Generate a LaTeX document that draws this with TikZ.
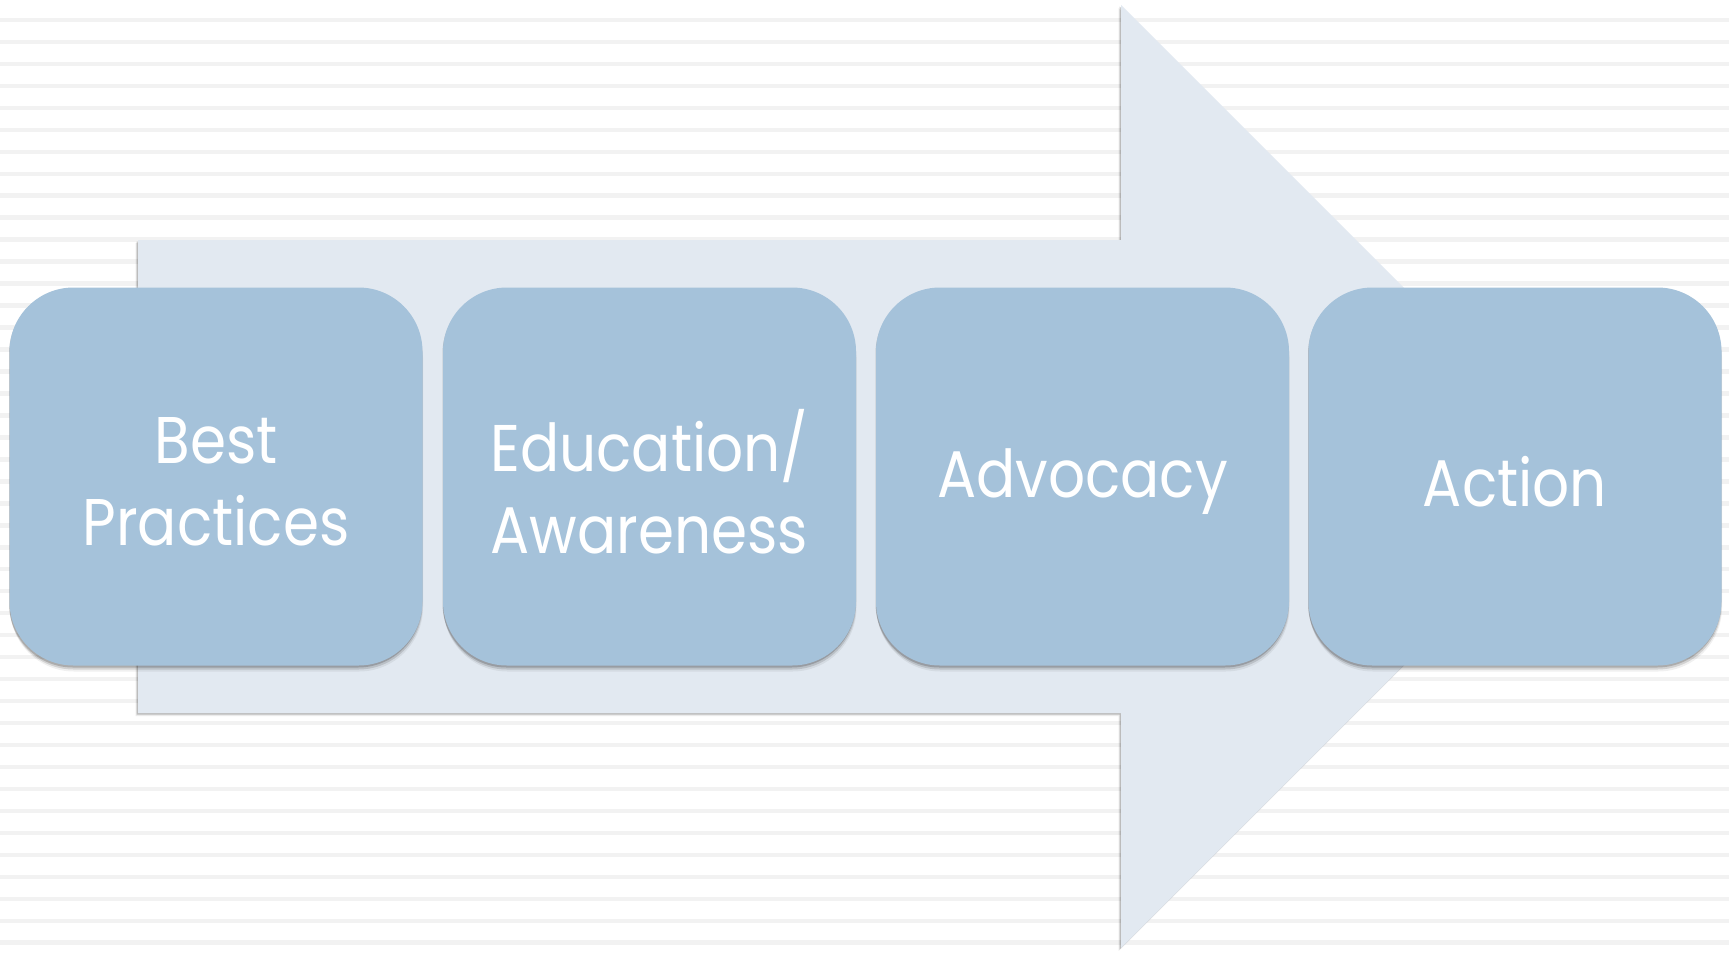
\documentclass[tikz,border=0pt]{standalone}
\usepackage{fontspec}
\setmainfont{Poppins}[FakeStretch=0.88]
\usetikzlibrary{shadows}
\definecolor{boxfill}{HTML}{A5C2DA}
\definecolor{arrowfill}{HTML}{E2E9F1}
\definecolor{stripecol}{HTML}{F2F2F2}
\begin{document}
\begin{tikzpicture}[x=1pt,y=-1pt,
  softshadow/.style={
    drop shadow={shadow xshift=-0.5pt,shadow yshift=-2pt,opacity=0.18,fill=black},
    drop shadow={shadow xshift=0pt,shadow yshift=-4pt,opacity=0.12,fill=black},
    drop shadow={shadow xshift=0.5pt,shadow yshift=-6pt,opacity=0.06,fill=black}},
  arrowshadow/.style={
    drop shadow={shadow xshift=-1.5pt,shadow yshift=-1.5pt,opacity=0.2,fill=black},
    drop shadow={shadow xshift=-2.5pt,shadow yshift=-3pt,opacity=0.08,fill=black}},
  stage/.style={fill=boxfill, rounded corners=64pt, minimum width=413pt,
    minimum height=378pt, inner sep=0pt, softshadow},
  stagetext/.style={text=white, align=center, inner sep=0pt,
    font=\fontsize{66}{82}\selectfont},
  stripeline/.style={stripecol, line width=4.5pt}
]
\useasboundingbox (0,0) rectangle (1729,953);
\fill[white] (0,0) rectangle (1729,953);
\foreach \k in {0,...,43}
  \draw[stripeline] (0,{-2+21.97*\k}) -- (1729,{-2+21.97*\k});
% big arrow
\fill[arrowfill, arrowshadow] (138,240) -- (1121,240) -- (1121,5) -- (1592.5,476.5)
  -- (1121,948) -- (1121,713) -- (138,713) -- cycle;
% stages
\node[stage] (s1) at (216,476.5) {};
\node[stage] (s2) at (649.5,476.5) {};
\node[stage] (s3) at (1082.5,476.5) {};
\node[stage] (s4) at (1515,476.5) {};
\node[stagetext] (t1) at ([yshift=-5pt]s1.center) {Best\\Practices};
\node[stagetext] (t2) at ([yshift=-5pt]s2.center) {Education/\\Awareness};
\node[stagetext] (t3) at ([yshift=-5pt]s3.center) {Advocacy};
\node[stagetext] (t4) at ([yshift=-5pt]s4.center) {Action};
\end{tikzpicture}
\end{document}
